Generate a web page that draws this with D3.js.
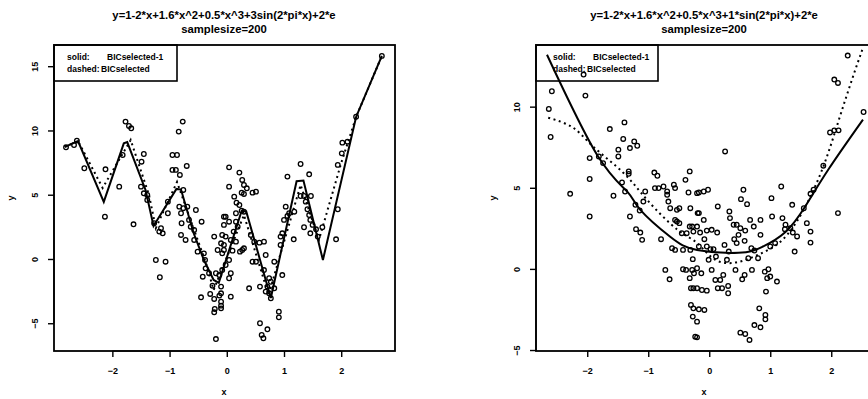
<!DOCTYPE html>
<html>
<head>
<meta charset="utf-8">
<script src="https://cdn.jsdelivr.net/npm/d3@7"></script>
<style>
  html, body { margin: 0; padding: 0; background: #fff; overflow: hidden; }
  svg { display: block; font-family: "Liberation Sans", Arial, sans-serif; }
</style>
</head>
<body>
<svg id="chart" width="868" height="399"></svg>
<script>
// ---- data ----
const xTicks = [-2, -1, 0, 1, 2];
const leftYTicks = [-5, 0, 5, 10, 15];
const rightYTicks = [-5, 0, 5, 10];

const leftTitle = ['y=1-2*x+1.6*x^2+0.5*x^3+3sin(2*pi*x)+2*e', 'samplesize=200'];
const rightTitle = ['y=1-2*x+1.6*x^2+0.5*x^3+1*sin(2*pi*x)+2*e', 'samplesize=200'];
const legendRows = [['solid:', 'BICselected-1'], ['dashed:', 'BICselected']];

// left panel sample
const leftPoints = [
  [-2.81, 8.69], [-2.67, 8.87], [-2.62, 9.21], [-2.49, 7.06], [-2.12, 6.98], [-2.13, 3.29],
  [-1.88, 5.63], [-1.82, 8.09], [-1.77, 10.69], [-1.71, 10.35], [-1.67, 10.17], [-1.63, 2.70],
  [-1.49, 7.57], [-1.45, 8.17], [-1.50, 5.63], [-1.45, 5.11], [-1.39, 4.98], [-1.39, 4.59],
  [-1.27, 2.78], [-1.24, -0.08], [-1.07, -0.21], [-1.17, -1.42], [-1.15, 2.39], [-1.12, 2.00],
  [-1.18, 2.13], [-1.03, 3.56], [-1.03, 4.46], [-0.95, 8.09], [-0.87, 8.09], [-0.95, 6.93],
  [-0.89, 6.93], [-0.82, 6.54], [-0.70, 7.24], [-0.84, 9.91], [-0.77, 10.69], [-0.76, 5.37],
  [-0.83, 4.07], [-0.76, 3.95], [-0.69, 4.07], [-0.80, 3.56], [-0.66, 3.04], [-0.54, 3.81],
  [-0.79, 2.78], [-0.63, 2.51], [-0.80, 1.87], [-0.72, 1.48], [-0.57, 2.26], [-0.44, 2.90],
  [-0.57, 1.48], [-0.51, 0.57], [-0.40, 0.44], [-0.38, -0.08], [-0.37, -0.73], [-0.42, -1.38],
  [-0.31, -1.11], [-0.22, 1.74], [-0.16, 0.70], [-0.19, -1.11], [-0.13, -1.25], [-0.08, -0.86],
  [-0.05, 0.70], [-0.08, 1.87], [-0.05, 2.65], [-0.10, 1.22], [-0.25, -2.08], [-0.45, -2.98],
  [-0.29, -2.72], [-0.22, -3.11], [-0.13, -2.85], [-0.10, -3.63], [-0.21, -3.89], [-0.22, -4.15],
  [-0.19, -6.23], [-0.05, 3.29],
  [0.04, 7.13], [0.22, 6.72], [0.04, 5.63], [0.27, 6.15], [0.30, 5.76], [0.35, 5.50],
  [0.26, 5.16], [0.30, 5.06], [0.45, 5.16], [0.51, 5.24], [0.13, 4.85], [0.17, 4.38],
  [0.22, 4.20], [0.26, 3.76], [0.30, 3.68], [0.16, 3.56], [-0.02, 3.29], [0.04, 2.90],
  [0.16, 2.90], [0.19, 2.51], [0.12, 2.13], [-0.02, 1.74], [0.07, 1.48], [0.16, 1.35],
  [-0.05, 1.09], [0.10, 0.65], [0.27, 0.70], [0.30, 0.83], [0.23, 0.57], [-0.08, 0.44],
  [0.04, -0.08], [-0.02, -0.47], [0.07, -1.11], [0.04, -1.50], [-0.10, -2.15], [-0.10, -2.67],
  [0.07, -2.93], [-0.10, -3.32], [-0.10, -3.84], [0.39, -2.28], [0.42, 1.87], [0.48, 1.35],
  [0.57, 1.27], [0.65, 1.35], [0.68, 0.31], [0.45, -0.21], [0.51, -0.21], [0.83, -0.21],
  [0.65, -0.86], [0.58, -2.15], [0.74, -1.50], [0.77, -1.77], [0.71, -2.15], [0.68, -2.54],
  [0.74, -2.67], [0.77, -3.06], [0.83, -2.28], [0.97, -1.25], [0.91, -4.10], [0.91, -4.54],
  [0.58, -5.00], [0.71, -5.47], [0.61, -5.91], [0.64, -6.17], [0.94, 1.09], [0.94, 1.74],
  [0.97, 2.00], [1.00, 3.04], [1.06, 3.35], [1.09, 3.56], [1.18, 3.68], [1.03, 4.07],
  [1.06, 6.41], [1.29, 7.39], [1.44, 6.59], [1.29, 4.90], [1.35, 4.90], [1.47, 4.90],
  [1.38, 4.46], [1.41, 3.87], [1.44, 3.42], [1.46, 3.04], [1.35, 2.47], [1.46, 2.00],
  [1.50, 2.65], [1.56, 2.31], [1.67, 2.47], [1.17, 1.53], [1.59, 1.74], [1.94, 3.87],
  [1.91, 1.53], [1.94, 7.32], [2.01, 8.22], [2.02, 9.05], [2.11, 9.13], [2.26, 11.07],
  [2.71, 15.80]
];
const leftSolid = [
  [-2.83, 8.72], [-2.60, 9.18], [-2.15, 4.44], [-1.80, 9.00], [-1.74, 9.10], [-1.42, 5.37],
  [-1.28, 2.57], [-0.88, 5.45], [-0.80, 5.40], [-0.58, 2.02], [-0.40, -0.08], [-0.23, -1.63],
  [-0.14, -1.85], [0.26, 3.75], [0.34, 3.70], [0.77, -3.03], [1.22, 6.05], [1.34, 6.10],
  [1.68, -0.08], [2.26, 11.05], [2.71, 15.80]
];
const leftDashed = [
  [-2.83, 8.72], [-2.60, 9.18], [-2.17, 5.53], [-1.68, 9.26], [-1.36, 4.98], [-1.24, 2.41],
  [-0.87, 5.99], [-0.54, 1.87], [-0.37, -0.23], [-0.23, -2.41], [0.30, 3.42], [0.73, -2.80],
  [1.29, 5.76], [1.61, 1.48], [1.99, 7.32], [2.26, 11.05], [2.71, 15.80]
];

// right panel sample
const rightPoints = [
  [-2.58, 10.95], [-2.63, 9.86], [-2.60, 8.13], [-2.03, 10.68], [-2.06, 11.98], [-2.28, 4.63],
  [-1.96, 6.83], [-1.96, 5.54], [-1.96, 3.23], [-1.81, 6.93], [-1.74, 6.52], [-1.63, 8.62],
  [-1.57, 4.51], [-1.39, 9.03], [-1.41, 8.01], [-1.49, 7.35], [-1.49, 6.93], [-1.30, 7.45],
  [-1.23, 7.86], [-1.18, 7.59], [-1.32, 6.01], [-1.32, 5.86], [-1.43, 5.33], [-1.38, 4.77],
  [-1.30, 3.23], [-1.21, 3.95], [-1.14, 3.60], [-1.20, 2.45], [-1.13, 2.24], [-1.10, 1.79],
  [-1.08, 4.15], [-1.05, 4.77], [-0.90, 5.94], [-0.85, 5.74], [-0.89, 4.98], [-0.83, 4.98],
  [-0.79, 1.83], [-0.75, 5.08], [-0.69, 4.77], [-0.69, 4.57], [-0.67, 4.15], [-0.64, 3.74],
  [-0.58, 5.19], [-0.56, 4.98], [-0.53, 3.64], [-0.49, 3.74], [-0.56, 3.02], [-0.53, 2.92],
  [-0.49, 2.82], [-0.45, 2.20], [-0.61, 1.28], [-0.56, 1.17], [-0.43, 1.17], [-0.39, 5.49],
  [-0.32, 6.01], [-0.34, 4.71], [-0.31, 3.74], [-0.32, 2.61], [-0.37, 2.20], [-0.28, 2.61],
  [-0.26, 2.30], [-0.20, 4.67], [-0.19, 3.44], [-0.31, 1.17], [-0.27, 0.60], [-0.43, -0.02],
  [-0.38, -0.06], [-0.28, -0.06], [-0.25, -0.27], [-0.32, -0.57], [-0.72, -0.06], [-0.65, -0.64],
  [-0.30, -1.19], [-0.26, -1.19], [-0.30, -2.22], [-0.26, -2.43], [-0.27, -2.94], [-0.23, -4.18],
  [-0.17, 4.71], [-0.09, 4.77], [-0.02, 4.88], [-0.17, 3.44], [-0.09, 3.02], [-0.20, 2.61],
  [-0.15, 2.24], [-0.04, 2.36], [0.04, 2.41], [0.13, 2.24], [-0.08, 1.83], [-0.17, 1.38],
  [-0.04, 1.38], [0.02, 1.22], [0.07, 1.22], [0.11, 0.76], [-0.01, 0.56], [-0.20, 0.04],
  [-0.13, -0.27], [0.04, -0.06], [0.10, -0.68], [0.18, -0.68], [0.23, -0.37], [0.14, -1.19],
  [0.21, -1.19], [0.31, -1.05], [0.31, -1.50], [-0.20, -1.19], [-0.12, -1.30], [-0.04, -1.34],
  [-0.17, -2.49], [-0.08, -2.53], [-0.20, -3.25], [-0.20, -4.22], [0.26, 7.24], [0.14, 3.85],
  [0.33, 3.54], [0.34, 3.13], [0.25, 1.48], [0.32, 1.07], [0.29, 0.56], [0.40, 2.72],
  [0.45, 2.72], [0.48, 2.10], [0.51, 2.51], [0.41, 1.83], [0.45, 1.59], [0.59, 2.36],
  [0.58, 1.73], [0.67, 3.02], [0.84, 3.02], [0.56, 4.88], [0.52, 4.30], [0.62, 3.99],
  [0.73, 2.61], [0.84, 2.10], [0.69, 1.28], [0.64, 0.66], [0.80, 0.66], [0.74, 1.13],
  [0.43, -0.06], [0.58, -0.37], [0.54, -0.64], [0.70, -0.06], [0.91, -0.17], [0.97, -0.02],
  [0.95, -0.57], [1.00, -0.47], [1.11, -0.78], [0.93, -1.40], [0.82, -2.43], [0.92, -2.84],
  [0.92, -3.11], [0.84, -3.60], [0.74, -3.46], [0.51, -3.93], [0.59, -4.01], [0.66, -4.38],
  [1.03, 3.23], [1.02, 4.36], [1.18, 5.08], [1.36, 3.95], [1.20, 3.13], [1.25, 2.72],
  [1.24, 2.45], [1.33, 2.51], [1.37, 2.24], [1.44, 2.00], [1.40, 1.07], [1.08, 1.59],
  [1.00, 1.38], [1.55, 3.74], [1.66, 4.63], [1.71, 4.88], [1.60, 2.82], [1.66, 2.30],
  [1.66, 1.62], [1.87, 6.36], [1.98, 8.41], [2.05, 8.54], [2.12, 8.54], [2.05, 11.67],
  [2.11, 11.46], [2.27, 13.15], [2.53, 9.67], [2.11, 3.44]
];
const rightSolid = [
  [-2.66, 13.2], [-1.84, 7.04], [-1.34, 4.75], [-1.13, 3.64], [-0.64, 1.98], [-0.20, 1.17],
  [0.48, 0.99], [0.87, 1.36], [1.25, 2.28], [1.57, 3.83], [1.95, 6.11], [2.52, 9.20]
];
const rightDashed = [
  [-2.64, 9.32], [-2.23, 8.70], [-1.90, 7.53], [-1.41, 5.93], [-1.02, 4.26], [-0.52, 2.41],
  [-0.20, 1.60], [0.10, 0.56], [0.48, 0.43], [0.87, 0.99], [1.20, 1.79], [1.52, 3.46],
  [1.85, 6.11], [2.11, 9.01], [2.34, 11.67], [2.51, 13.52]
];

const svg = d3.select('#chart');

function drawPanel(opt) {
  const x = d3.scaleLinear().domain(opt.xDomain).range([opt.left, opt.left + 341]);
  const y = d3.scaleLinear().domain(opt.yDomain).range([351, 45]);
  const g = svg.append('g');

  // titles
  opt.title.forEach((t, i) => {
    g.append('text')
      .attr('x', opt.titleX)
      .attr('y', 19 + i * 14)
      .attr('text-anchor', 'middle')
      .attr('font-size', '11.3px')
      .attr('font-weight', 'bold')
      .text(t);
  });

  // x axis
  const xa = g.append('g')
    .attr('transform', 'translate(0,351)')
    .call(d3.axisBottom(x).tickValues(xTicks).tickSize(6).tickPadding(11).tickFormat(d3.format('d')));
  xa.select('.domain').attr('stroke-width', 1.2)
    .attr('d', `M${x(xTicks[0])},0H${x(xTicks[xTicks.length - 1])}`);
  xa.selectAll('.tick line').attr('stroke-width', 1.4);
  xa.selectAll('.tick text').attr('font-size', '9px').attr('font-weight', 'bold')
    .attr('font-family', '"Liberation Sans", Arial, sans-serif');

  // y axis, labels turned like R does
  const ya = g.append('g')
    .attr('transform', `translate(${opt.left},0)`)
    .call(d3.axisLeft(y).tickValues(opt.yTicks).tickSize(6).tickFormat(d3.format('d')));
  ya.select('.domain').attr('stroke-width', 1.2)
    .attr('d', `M0,${y(opt.yTicks[0])}V${y(opt.yTicks[opt.yTicks.length - 1])}`);
  ya.selectAll('.tick line').attr('stroke-width', 1.4);
  ya.selectAll('.tick text')
    .attr('x', null).attr('dy', null)
    .attr('transform', 'translate(-16,0) rotate(-90)')
    .attr('text-anchor', 'middle')
    .attr('font-size', '9px').attr('font-weight', 'bold')
    .attr('font-family', '"Liberation Sans", Arial, sans-serif');

  // axis titles
  g.append('text')
    .attr('x', opt.titleX).attr('y', 395)
    .attr('text-anchor', 'middle')
    .attr('font-size', '9px').attr('font-weight', 'bold')
    .text('x');
  g.append('text')
    .attr('transform', `translate(${opt.left - 40},198) rotate(-90)`)
    .attr('text-anchor', 'middle')
    .attr('font-size', '9px').attr('font-weight', 'bold')
    .text('y');

  // plot frame
  g.append('rect')
    .attr('x', opt.left).attr('y', 45)
    .attr('width', 341).attr('height', 306)
    .attr('fill', 'none').attr('stroke', '#000').attr('stroke-width', 1.8);

  // legend
  const lg = g.append('g').attr('transform', `translate(${opt.left},45)`);
  lg.append('rect')
    .attr('width', opt.legendW).attr('height', 36)
    .attr('fill', 'none').attr('stroke', '#000').attr('stroke-width', 1.6);
  legendRows.forEach((r, i) => {
    lg.append('text').attr('x', opt.legendPad).attr('y', 15 + i * 12)
      .attr('font-size', '8.5px').attr('font-weight', 'bold').text(r[0]);
    lg.append('text').attr('x', opt.legendPad + (i === 0 ? 40 : 34)).attr('y', 15 + i * 12)
      .attr('font-size', '8.5px').attr('font-weight', 'bold').text(r[1]);
  });

  // fitted curves
  const line = d3.line().x(d => x(d[0])).y(d => y(d[1])).curve(opt.curve);
  g.append('path').datum(opt.dashed)
    .attr('fill', 'none').attr('stroke', '#000').attr('stroke-width', 2)
    .attr('stroke-dasharray', '2,3.5').attr('d', line);
  g.append('path').datum(opt.solid)
    .attr('fill', 'none').attr('stroke', '#000').attr('stroke-width', 2)
    .attr('d', line);

  // sample points
  g.append('g').selectAll('circle')
    .data(opt.points)
    .join('circle')
    .attr('cx', d => x(d[0]))
    .attr('cy', d => y(d[1]))
    .attr('r', 2.3)
    .attr('fill', 'none')
    .attr('stroke', '#000')
    .attr('stroke-width', 1.3);
}

drawPanel({
  left: 54, titleX: 224, xDomain: [-3.02, 2.94], yDomain: [-7.16, 16.65],
  yTicks: leftYTicks, title: leftTitle, legendW: 123, legendPad: 13,
  points: leftPoints, solid: leftSolid, dashed: leftDashed, curve: d3.curveLinear
});
drawPanel({
  left: 536, titleX: 704, xDomain: [-2.84, 2.75], yDomain: [-5.06, 13.8],
  yTicks: rightYTicks, title: rightTitle, legendW: 122, legendPad: 17,
  points: rightPoints, solid: rightSolid, dashed: rightDashed, curve: d3.curveNatural
});
</script>
</body>
</html>
